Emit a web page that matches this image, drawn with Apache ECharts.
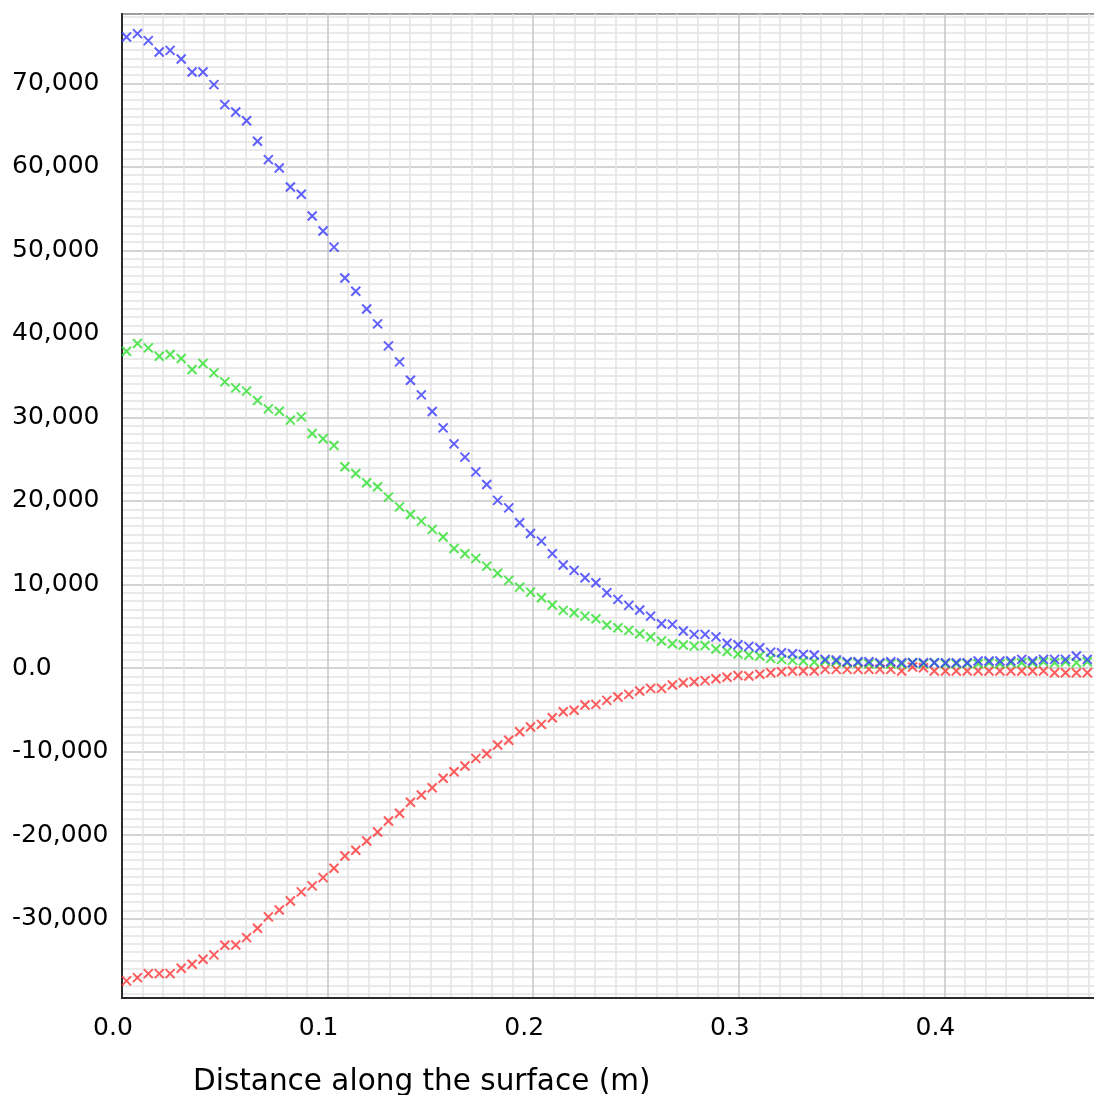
<!DOCTYPE html>
<html>
<head>
<meta charset="utf-8">
<script src="https://cdn.jsdelivr.net/npm/echarts@6/dist/echarts.min.js"></script>
<style>
  html, body { margin: 0; padding: 0; background: #ffffff; }
  #chart { width: 1094px; height: 1095px; }
</style>
</head>
<body>
<div id="chart"></div>
<script>
// Distance along the surface (m), one sample per station
const distance = [
  0.0022, 0.0075, 0.0128, 0.0181, 0.0234, 0.0288, 0.0341, 0.0394, 0.0447, 0.0500,
  0.0553, 0.0606, 0.0659, 0.0712, 0.0765, 0.0819, 0.0872, 0.0925, 0.0978, 0.1031,
  0.1084, 0.1137, 0.1190, 0.1243, 0.1296, 0.1350, 0.1403, 0.1456, 0.1509, 0.1562,
  0.1615, 0.1668, 0.1721, 0.1774, 0.1827, 0.1881, 0.1934, 0.1987, 0.2040, 0.2093,
  0.2146, 0.2199, 0.2252, 0.2305, 0.2358, 0.2412, 0.2465, 0.2518, 0.2571, 0.2624,
  0.2677, 0.2730, 0.2783, 0.2836, 0.2889, 0.2943, 0.2996, 0.3049, 0.3102, 0.3155,
  0.3208, 0.3261, 0.3314, 0.3367, 0.3420, 0.3474, 0.3527, 0.3580, 0.3633, 0.3686,
  0.3739, 0.3792, 0.3845, 0.3898, 0.3951, 0.4005, 0.4058, 0.4111, 0.4164, 0.4217,
  0.4270, 0.4323, 0.4376, 0.4429, 0.4482, 0.4536, 0.4589, 0.4642, 0.4695
];

const blueValues = [
  75540, 75950, 75110, 73750, 73950, 72910, 71350, 71350, 69840, 67450,
  66570, 65530, 63060, 60870, 59860, 57590, 56720, 54120, 52330, 50390,
  46700, 45110, 42990, 41200, 38570, 36650, 34460, 32700, 30720, 28750,
  26840, 25250, 23490, 21980, 20070, 19180, 17390, 16110, 15200, 13700,
  12330, 11690, 10810, 10210, 9010, 8220, 7500, 6940, 6220, 5300,
  5230, 4430, 4030, 4030, 3730, 2970, 2790, 2590, 2430, 1910,
  1830, 1710, 1640, 1560, 1040, 960, 760, 760, 760, 640,
  760, 640, 640, 640, 640, 640, 640, 640, 840, 840,
  840, 840, 1040, 840, 1040, 1040, 1040, 1440, 1040
];

const greenValues = [
  37930, 38850, 38330, 37330, 37530, 37060, 35740, 36460, 35340, 34260,
  33540, 33150, 32030, 31030, 30750, 29680, 30070, 28080, 27460, 26650,
  24090, 23300, 22180, 21700, 20460, 19300, 18390, 17590, 16600, 15680,
  14320, 13680, 13130, 12200, 11350, 10500, 9690, 9090, 8410, 7540,
  6900, 6620, 6220, 5900, 5150, 4820, 4510, 4110, 3710, 3230,
  2910, 2750, 2630, 2690, 2290, 1990, 1680, 1560, 1440, 1160,
  1040, 920, 840, 720, 840, 760, 640, 640, 520, 520,
  520, 440, 640, 520, 640, 520, 520, 520, 520, 640,
  520, 640, 640, 640, 760, 640, 760, 640, 760
];

const redValues = [
  -37450, -37060, -36580, -36580, -36580, -35940, -35460, -34860, -34340, -33180,
  -33150, -32270, -31150, -29790, -28960, -27880, -26800, -26080, -25090, -23970,
  -22500, -21810, -20700, -19620, -18310, -17390, -16060, -15200, -14320, -13200,
  -12410, -11730, -10810, -10250, -9210, -8650, -7620, -7060, -6740, -5950,
  -5230, -5060, -4430, -4350, -3870, -3470, -3150, -2750, -2430, -2430,
  -2030, -1750, -1640, -1510, -1290, -1100, -900, -960, -750, -560,
  -440, -360, -360, -360, -160, -160, -160, -160, -160, -160,
  -160, -360, 120, 40, -360, -360, -360, -360, -360, -360,
  -360, -360, -360, -360, -360, -560, -560, -560, -560
];

const xAxisTitle = 'Distance along the surface (m)';

function pairs(xs, ys) {
  return xs.map((x, i) => [x, ys[i]]);
}

// cross marker, stroked
const crossSymbol = 'path://M0,0L10,10M10,0L0,10';

function crossSeries(values, color) {
  return {
    type: 'scatter',
    data: pairs(distance, values),
    symbol: crossSymbol,
    symbolSize: 9,
    itemStyle: { color: 'rgba(0,0,0,0)', borderColor: color, borderWidth: 2 },
    emphasis: { disabled: true },
    animation: false
  };
}

const FONT = 'DejaVu Sans';

const chart = echarts.init(document.getElementById('chart'), null, { renderer: 'canvas' });

chart.setOption({
  backgroundColor: '#ffffff',
  animation: false,
  grid: {
    left: 122, top: 14, width: 1028, bottom: 97,
    outerBoundsMode: 'none',
    containLabel: false,
    show: true, borderColor: '#2b2b2b', borderWidth: 2, backgroundColor: 'transparent'
  },
  xAxis: {
    type: 'value',
    min: 0, max: 0.5, interval: 0.1,
    axisLine: { show: true, onZero: false, lineStyle: { color: '#2b2b2b', width: 2 } },
    axisTick: { show: false },
    minorTick: { show: false, splitNumber: 10 },
    splitLine: { show: true, lineStyle: { color: '#c6c6c6', width: 1.5 } },
    minorSplitLine: { show: true, lineStyle: { color: '#e4e4e4', width: 1.5 } },
    axisLabel: {
      fontFamily: FONT, fontSize: 25, color: '#000000', margin: 18,
      padding: [0, 18, 0, 0],
      showMaxLabel: false,
      formatter: v => v.toFixed(1)
    }
  },
  yAxis: {
    type: 'value',
    min: -39500, max: 78300, splitNumber: 12,
    axisLine: { show: true, onZero: false, lineStyle: { color: '#2b2b2b', width: 2 } },
    axisTick: { show: false },
    minorTick: { show: false, splitNumber: 10 },
    splitLine: { show: true, lineStyle: { color: '#c6c6c6', width: 1.5 } },
    minorSplitLine: { show: true, lineStyle: { color: '#e4e4e4', width: 1.5 } },
    axisLabel: {
      fontFamily: FONT, fontSize: 25, color: '#000000',
      align: 'left', margin: 110,
      showMinLabel: false, showMaxLabel: false,
      formatter: v => v === 0 ? '0.0' : v.toLocaleString('en-US')
    }
  },
  graphic: [{
    type: 'text',
    left: 193, top: 1067,
    style: { text: xAxisTitle, font: '29.5px "DejaVu Sans"', fill: '#000000' }
  }],
  series: [
    crossSeries(redValues, '#ff3434'),
    crossSeries(greenValues, '#30e030'),
    crossSeries(blueValues, '#3a3aff')
  ]
});
</script>
</body>
</html>
